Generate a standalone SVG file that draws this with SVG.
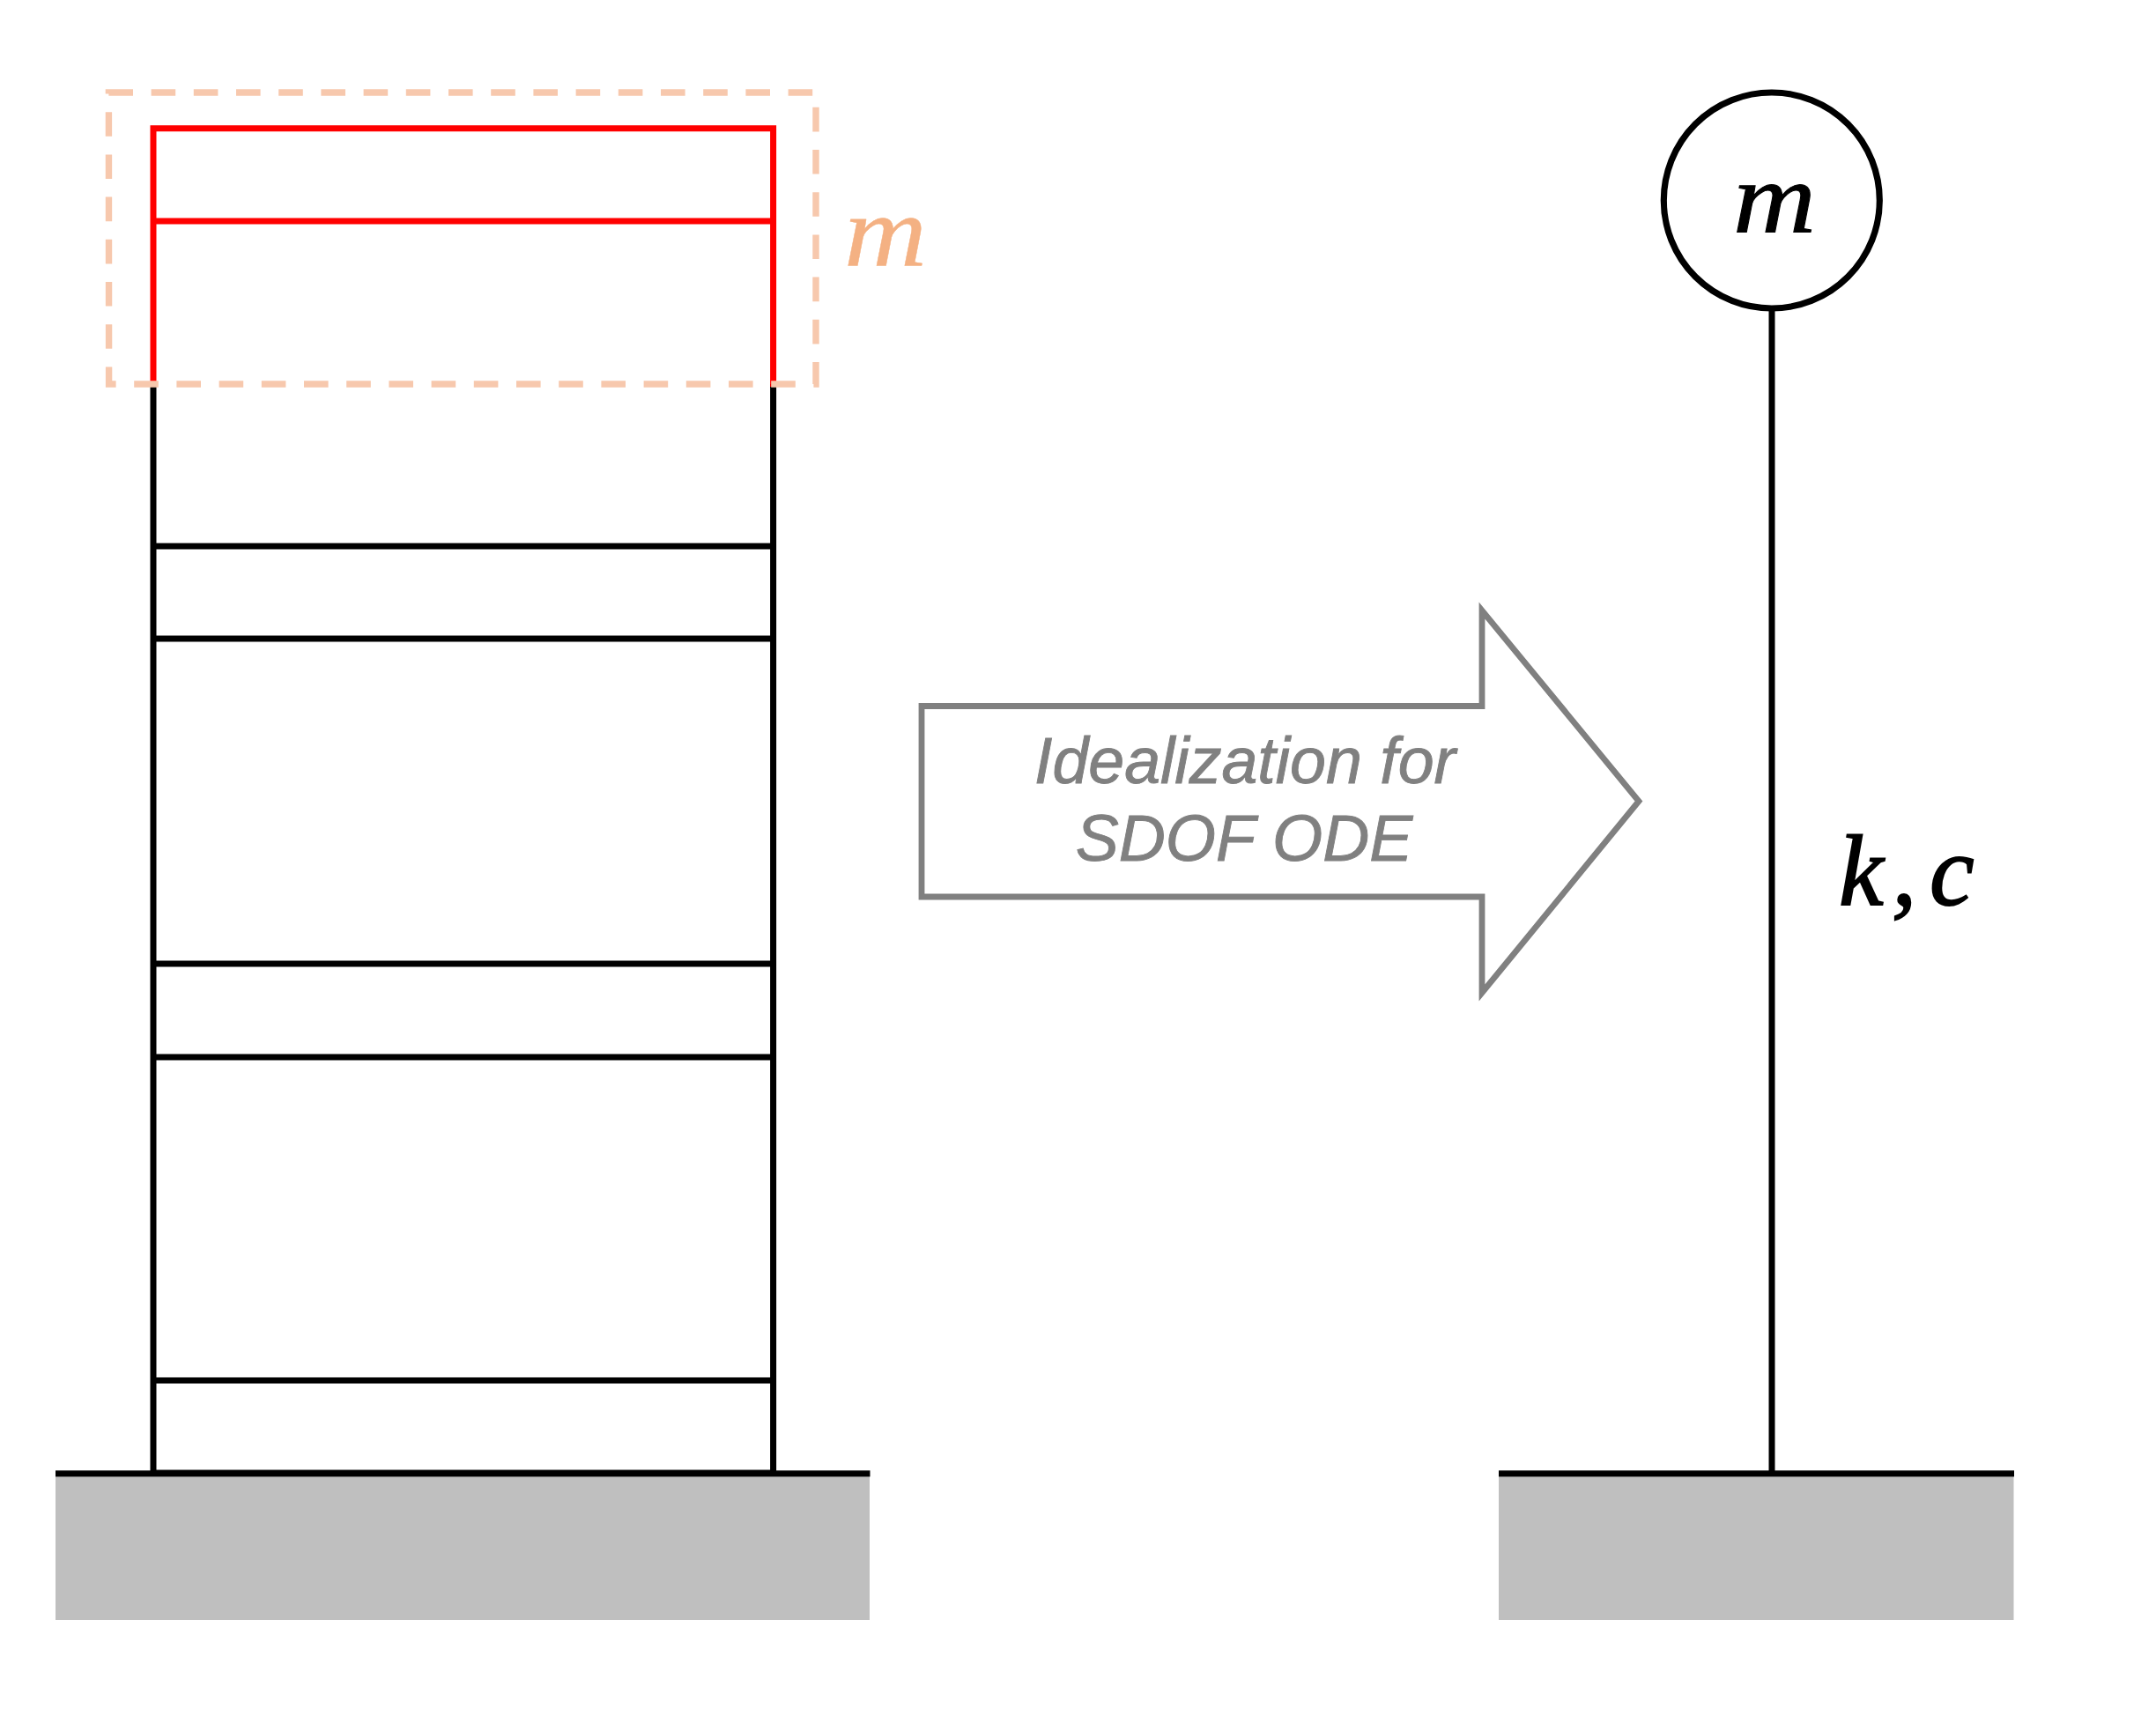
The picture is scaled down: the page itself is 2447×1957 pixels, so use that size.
<svg xmlns="http://www.w3.org/2000/svg" width="2447" height="1957" viewBox="0 0 2447 1957">
<style>
.ln{fill:none;stroke:#000;stroke-width:7}
.rd{fill:none;stroke:#f00;stroke-width:7}
.gr{fill:#bfbfbf}
.math{font-family:"Liberation Serif",serif;font-style:italic;font-size:114px}
.lab{font-family:"Liberation Sans",Arial,sans-serif;font-style:italic;font-size:73.5px;fill:#808080;stroke:#808080;stroke-width:0.9;text-anchor:middle}
</style>
<rect width="2447" height="1957" fill="#fff"/>
<g id="ground-left"><rect class="gr" x="63" y="1673" width="924" height="166"/></g>
<g id="ground-right"><rect class="gr" x="1701" y="1673" width="584.500" height="166"/></g>
<g id="building">
<path class="ln" d="M174 436V1673M877.6 436V1673M174 620H877.6M174 725H877.6M174 1094H877.6M174 1200H877.6M174 1567H877.6M174 1672H877.6"/>
<path class="rd" d="M174 439V145.7H877.6V439M174 251H877.6"/>
<path id="mass-box" d="M123.4 105H926V436H123.6Z" fill="none" stroke="#f7c8ad" stroke-width="7.400" stroke-dasharray="27.6 20.6"/>
<text class="math" x="958" y="301" fill="#f4b183" stroke="#f4b183" stroke-width="0.4" textLength="94" lengthAdjust="spacingAndGlyphs">m</text>
</g>
<g id="ground-lines">
<path class="ln" d="M63 1672.7H987.500M1701 1672.7H2286"/>
</g>
<g id="idealization-arrow">
<path d="M1046 801.500H1682V693L1860 909.500L1682 1127V1018H1046Z" fill="#fff" stroke="#808080" stroke-width="6.800"/>
<text class="lab" x="1413" y="889">Idealization for</text>
<text class="lab" x="1412" y="977">SDOF ODE</text>
</g>
<g id="connectors"><path class="ln" d="M2011 350V1673"/></g>
<g id="sdof-mass">
<circle cx="2010.8" cy="227.500" r="122.500" fill="#fff" stroke="#000" stroke-width="7.200"/>
<text class="math" x="1967" y="263" fill="#000" stroke="#000" stroke-width="1" textLength="94" lengthAdjust="spacingAndGlyphs">m</text>
</g>
<g id="stiffness-label">
<text class="math" x="2087 2147 2170 2190" y="1026.500" fill="#000" stroke="#000" stroke-width="1.800">k, c</text>
</g>
</svg>
